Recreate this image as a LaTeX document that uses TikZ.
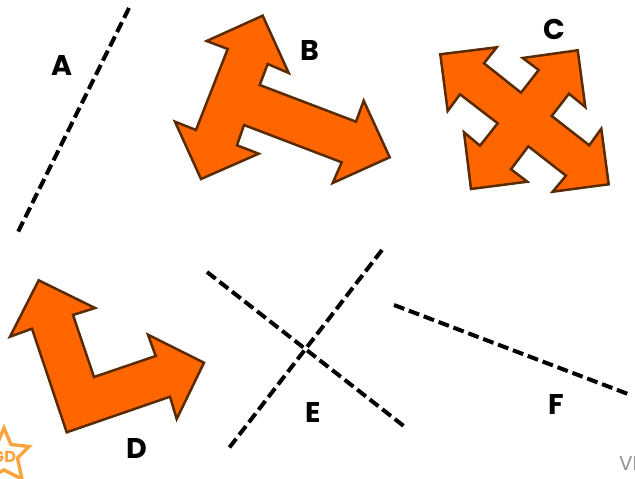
\documentclass[tikz,border=0pt]{standalone}
\usepackage{fontspec}
\setmainfont{Poppins}
\definecolor{fillor}{HTML}{FF6600}
\definecolor{edgebr}{HTML}{5A2A00}
\definecolor{staror}{HTML}{F9A441}
\tikzset{
  arrowshape/.style={draw=edgebr,fill=fillor,line width=2.5pt,line join=miter},
  dashline/.style={draw=black,line width=4pt,dash pattern=on 11pt off 4.9pt},
  letter/.style={font=\fontsize{28.5}{30}\selectfont\bfseries,text=black,inner sep=0pt}
}
\begin{document}
\begin{tikzpicture}[x=1pt,y=-1pt]
\clip (0,0) rectangle (635,479);
\useasboundingbox (0,0) rectangle (635,479);
\fill[white] (0,0) rectangle (635,479);
% B
\draw[arrowshape] (262.7,15.7)--(288.7,73)--(267.7,64)--(259.7,85)--(356,121.7)--(363.7,100.7)--(389.7,157.3)--(332.7,183)--(341.7,162.3)--(244,125)--(237,145.3)--(258.7,153.7)--(201,179)--(175,121.7)--(196,130)--(227.7,49)--(206.7,41)--cycle;
% C
\draw[arrowshape] (440.3,54.3)--(496.7,47.3)--(484,63.3)--(521,92.7)--(538.7,70)--(522.7,58)--(577.7,50.3)--(585.3,107)--(569,93.7)--(551.7,116)--(589.3,145.3)--(601.3,128.7)--(608.7,184.3)--(552.7,191.7)--(566,175.7)--(528.3,146.3)--(511,169.3)--(527.3,181.7)--(471,189)--(464,132.3)--(480,145.7)--(497.7,123.3)--(460,94.3)--(447.7,111)--cycle;
% D
\draw[arrowshape] (38.7,280.3)--(95,308)--(73,315)--(94,377)--(155.7,356)--(148,334.7)--(204,362.7)--(176.7,419)--(170,396.7)--(66.7,432.3)--(32,328.7)--(10,336.7)--cycle;
% dashed lines
\coordinate (a1) at (129,8); \coordinate (a2) at (18,232);
\coordinate (e1) at (207,272); \coordinate (e2) at (405,427);
\coordinate (e3) at (382,250); \coordinate (e4) at (229,448);
\coordinate (f1) at (394,305); \coordinate (f2) at (628,394);
\draw[dashline] (a1)--(a2);
\draw[dashline] (e1)--(e2);
\draw[dashline] (e3)--(e4);
\draw[dashline] (f1)--(f2);
% labels
\node[letter] (la) at (62,65) {A};
\node[letter] (lb) at (310,50) {B};
\node[letter] (lc) at (554,29) {C};
\node[letter] (ld) at (137,448) {D};
\node[letter] (le) at (313,412) {E};
\node[letter] (lf) at (556,404) {F};
% star
\draw[staror,line width=3.4pt,line join=miter]
 (4,428)--(11,444.5)--(29,446.5)--(17.5,458)--(22,479)--(4,470)--(-14,479)--(-9.5,458)--(-21,446.5)--(-3,444.5)--cycle;
\node[text=staror,inner sep=0pt,font=\fontsize{16}{18}\selectfont\bfseries] (gd) at (4,457) {GD};
\node[anchor=west,text=gray!85,inner sep=0pt,font=\fontsize{20}{22}\selectfont] (vi) at (619,464) {VI};
\end{tikzpicture}
\end{document}
